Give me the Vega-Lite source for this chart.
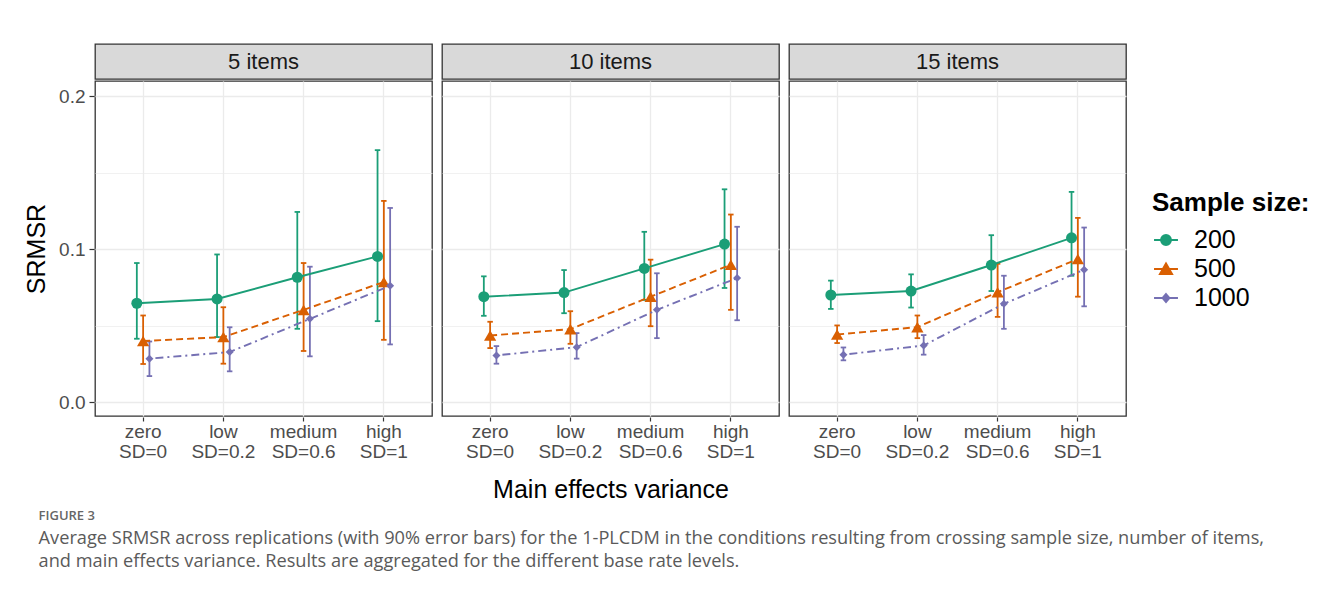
{
  "$schema": "https://vega.github.io/schema/vega-lite/v6.json",
  "padding": {"left": 24, "top": 43, "right": 5, "bottom": 5},
  "background": "white",
  "datasets": {
    "panels": [{"items": "5 items"}, {"items": "10 items"}, {"items": "15 items"}],
    "d": [
      {"items": "5 items", "variance": "zero", "n": "200", "m": 0.0647, "lo": 0.0415, "hi": 0.091},
      {"items": "5 items", "variance": "zero", "n": "500", "m": 0.040, "lo": 0.025, "hi": 0.0567},
      {"items": "5 items", "variance": "zero", "n": "1000", "m": 0.0285, "lo": 0.0171, "hi": 0.0397},
      {"items": "5 items", "variance": "low", "n": "200", "m": 0.0675, "lo": 0.0426, "hi": 0.0966},
      {"items": "5 items", "variance": "low", "n": "500", "m": 0.0426, "lo": 0.0252, "hi": 0.0621},
      {"items": "5 items", "variance": "low", "n": "1000", "m": 0.0328, "lo": 0.0202, "hi": 0.049},
      {"items": "5 items", "variance": "medium", "n": "200", "m": 0.0817, "lo": 0.048, "hi": 0.1244},
      {"items": "5 items", "variance": "medium", "n": "500", "m": 0.0604, "lo": 0.0335, "hi": 0.091},
      {"items": "5 items", "variance": "medium", "n": "1000", "m": 0.0545, "lo": 0.030, "hi": 0.0886},
      {"items": "5 items", "variance": "high", "n": "200", "m": 0.0953, "lo": 0.053, "hi": 0.1648},
      {"items": "5 items", "variance": "high", "n": "500", "m": 0.0786, "lo": 0.0408, "hi": 0.1316},
      {"items": "5 items", "variance": "high", "n": "1000", "m": 0.0762, "lo": 0.0378, "hi": 0.127},
      {"items": "10 items", "variance": "zero", "n": "200", "m": 0.069, "lo": 0.0565, "hi": 0.0823},
      {"items": "10 items", "variance": "zero", "n": "500", "m": 0.0436, "lo": 0.0354, "hi": 0.0526},
      {"items": "10 items", "variance": "zero", "n": "1000", "m": 0.0306, "lo": 0.0252, "hi": 0.0367},
      {"items": "10 items", "variance": "low", "n": "200", "m": 0.0717, "lo": 0.0582, "hi": 0.0864},
      {"items": "10 items", "variance": "low", "n": "500", "m": 0.0478, "lo": 0.0382, "hi": 0.0595},
      {"items": "10 items", "variance": "low", "n": "1000", "m": 0.036, "lo": 0.0285, "hi": 0.0452},
      {"items": "10 items", "variance": "medium", "n": "200", "m": 0.0875, "lo": 0.0669, "hi": 0.1114},
      {"items": "10 items", "variance": "medium", "n": "500", "m": 0.069, "lo": 0.0497, "hi": 0.0932},
      {"items": "10 items", "variance": "medium", "n": "1000", "m": 0.0604, "lo": 0.0419, "hi": 0.0843},
      {"items": "10 items", "variance": "high", "n": "200", "m": 0.1034, "lo": 0.0747, "hi": 0.1392},
      {"items": "10 items", "variance": "high", "n": "500", "m": 0.0899, "lo": 0.0604, "hi": 0.1227},
      {"items": "10 items", "variance": "high", "n": "1000", "m": 0.0812, "lo": 0.0536, "hi": 0.1147},
      {"items": "15 items", "variance": "zero", "n": "200", "m": 0.0701, "lo": 0.061, "hi": 0.0795},
      {"items": "15 items", "variance": "zero", "n": "500", "m": 0.0443, "lo": 0.0387, "hi": 0.0502},
      {"items": "15 items", "variance": "zero", "n": "1000", "m": 0.0311, "lo": 0.0274, "hi": 0.0358},
      {"items": "15 items", "variance": "low", "n": "200", "m": 0.0727, "lo": 0.0619, "hi": 0.0836},
      {"items": "15 items", "variance": "low", "n": "500", "m": 0.0491, "lo": 0.0419, "hi": 0.0567},
      {"items": "15 items", "variance": "low", "n": "1000", "m": 0.0371, "lo": 0.0311, "hi": 0.0439},
      {"items": "15 items", "variance": "medium", "n": "200", "m": 0.0897, "lo": 0.0727, "hi": 0.1092},
      {"items": "15 items", "variance": "medium", "n": "500", "m": 0.0719, "lo": 0.0558, "hi": 0.0905},
      {"items": "15 items", "variance": "medium", "n": "1000", "m": 0.0643, "lo": 0.048, "hi": 0.0827},
      {"items": "15 items", "variance": "high", "n": "200", "m": 0.1075, "lo": 0.0827, "hi": 0.1375},
      {"items": "15 items", "variance": "high", "n": "500", "m": 0.0936, "lo": 0.069, "hi": 0.1205},
      {"items": "15 items", "variance": "high", "n": "1000", "m": 0.0866, "lo": 0.0627, "hi": 0.1142}
    ]
  },
  "title": {
    "text": "FIGURE 3",
    "subtitle": ["Average SRMSR across replications (with 90% error bars) for the 1-PLCDM in the conditions resulting from crossing sample size, number of items,", "and main effects variance. Results are aggregated for the different base rate levels."],
    "orient": "bottom",
    "anchor": "start",
    "frame": "bounds",
    "offset": 7,
    "dx": 14,
    "font": "Open Sans",
    "fontSize": 13,
    "fontWeight": 600,
    "color": "#666666",
    "subtitleFont": "Open Sans",
    "subtitleFontSize": 18.2,
    "subtitleColor": "#5a5a5a",
    "subtitleLineHeight": 23,
    "subtitlePadding": 7
  },
  "spacing": 0,
  "vconcat": [
    {
      "data": {"name": "panels"},
      "facet": {"column": {"field": "items", "type": "nominal", "sort": ["5 items", "10 items", "15 items"], "header": null}},
      "spacing": 8,
      "spec": {
        "width": 337,
        "height": 35,
        "view": {"fill": "#D9D9D9", "stroke": "#333333", "strokeWidth": 1.3},
        "mark": {"type": "text", "font": "Liberation Sans", "fontSize": 22, "color": "#1A1A1A", "baseline": "middle", "align": "center"},
        "encoding": {"text": {"field": "items", "type": "nominal"}}
      }
    },
    {
      "data": {"name": "d"},
      "facet": {
        "column": {
          "field": "items", "type": "nominal", "sort": ["5 items", "10 items", "15 items"],
          "title": "Main effects variance",
          "header": {"labels": false, "title": "Main effects variance", "titleOrient": "bottom", "titleFont": "Liberation Sans", "titleFontSize": 25, "titleFontWeight": "normal", "titleColor": "#000000", "titlePadding": 7}
        }
      },
      "spacing": 8,
      "spec": {
        "width": 337,
        "height": 335,
        "view": {"stroke": "#333333", "strokeWidth": 1.3},
        "encoding": {
          "x": {
            "field": "variance", "type": "nominal",
            "sort": ["zero", "low", "medium", "high"],
            "scale": {"type": "band", "paddingInner": 0, "paddingOuter": 0.1},
            "axis": {
              "title": null,
              "labelAngle": 0,
              "labelFont": "Liberation Sans", "labelFontSize": 19, "labelColor": "#4D4D4D", "labelPadding": 1, "labelLineHeight": 20,
              "labelExpr": "[datum.label, datum.label == 'zero' ? 'SD=0' : datum.label == 'low' ? 'SD=0.2' : datum.label == 'medium' ? 'SD=0.6' : 'SD=1']",
              "bandPosition": 0.5,
              "domain": false,
              "ticks": true, "tickSize": 4, "tickColor": "#333333", "tickWidth": 1.2,
              "grid": true, "gridColor": "#EBEBEB", "gridWidth": 1.3
            }
          },
          "xOffset": {
            "field": "n", "type": "nominal",
            "sort": ["200", "500", "1000"],
            "scale": {"type": "point", "padding": 0, "range": [33.8, 46.4]}
          },
          "color": {
            "field": "n", "type": "nominal",
            "sort": ["200", "500", "1000"],
            "scale": {"domain": ["200", "500", "1000"], "range": ["#1B9E77", "#D95F02", "#7570B3"]},
            "legend": {
              "title": "Sample size:",
              "orient": "none",
              "legendX": 1057,
              "legendY": 146,
              "titleFont": "Liberation Sans", "titleFontSize": 26, "titleFontWeight": "bold", "titleColor": "#000000", "titlePadding": 10,
              "labelFont": "Liberation Sans", "labelFontSize": 25, "labelColor": "#000000", "labelOffset": 14,
              "symbolSize": 676, "rowPadding": 2, "symbolStrokeWidth": 2,
              "encode": {
                "symbols": {
                  "update": {
                    "shape": {"signal": "datum.value == '200' ? 'M-0.92,0H0.92M0.38,0A0.38,0.38,0,1,1,-0.38,0A0.38,0.38,0,1,1,0.38,0Z' : datum.value == '500' ? 'M-0.92,0H0.92M0,-0.42L0.46,0.38L-0.46,0.38Z' : 'M-0.92,0H0.92M0,-0.3L0.26,0L0,0.3L-0.26,0Z'"},
                    "fill": {"signal": "scale('color', datum.value)"},
                    "stroke": {"signal": "scale('color', datum.value)"},
                    "strokeWidth": {"value": 2},
                    "opacity": {"value": 1},
                    "fillOpacity": {"value": 1},
                    "strokeOpacity": {"value": 1}
                  }
                }
              }
            }
          }
        },
        "layer": [
          {
            "mark": {"type": "rule", "strokeWidth": 1.8},
            "encoding": {
              "y": {
                "field": "lo", "type": "quantitative",
                "scale": {"domain": [-0.009, 0.21], "nice": false, "zero": false},
                "axis": {
                  "title": "SRMSR",
                  "titleFont": "Liberation Sans", "titleFontSize": 25, "titleFontWeight": "normal", "titleColor": "#000000", "titlePadding": 9,
                  "values": [0, 0.05, 0.1, 0.15, 0.2],
                  "labelExpr": "indexof([0.05, 0.15], datum.value) >= 0 ? '' : format(datum.value, '.1f')",
                  "labelFont": "Liberation Sans", "labelFontSize": 19, "labelColor": "#4D4D4D", "labelPadding": 4,
                  "domain": false,
                  "tickSize": 5, "tickColor": "#333333", "tickWidth": 1.2,
                  "tickOpacity": {"condition": {"test": "indexof([0.05, 0.15], datum.value) >= 0", "value": 0}, "value": 1},
                  "grid": true, "gridColor": "#EBEBEB",
                  "gridWidth": {"condition": {"test": "indexof([0.05, 0.15], datum.value) >= 0", "value": 0.7}, "value": 1.3}
                }
              },
              "y2": {"field": "hi"}
            }
          },
          {
            "mark": {"type": "point", "shape": "M-1,0H1", "filled": false, "size": 30, "strokeWidth": 1.8, "opacity": 1},
            "encoding": {"y": {"field": "lo", "type": "quantitative"}}
          },
          {
            "mark": {"type": "point", "shape": "M-1,0H1", "filled": false, "size": 30, "strokeWidth": 1.8, "opacity": 1},
            "encoding": {"y": {"field": "hi", "type": "quantitative"}}
          },
          {
            "transform": [{"filter": "datum.n == '200'"}],
            "mark": {"type": "line", "strokeWidth": 1.9},
            "encoding": {"y": {"field": "m", "type": "quantitative"}}
          },
          {
            "transform": [{"filter": "datum.n == '500'"}],
            "mark": {"type": "line", "strokeWidth": 1.9, "strokeDash": [7, 4]},
            "encoding": {"y": {"field": "m", "type": "quantitative"}}
          },
          {
            "transform": [{"filter": "datum.n == '1000'"}],
            "mark": {"type": "line", "strokeWidth": 1.9, "strokeDash": [2, 4, 8, 4]},
            "encoding": {"y": {"field": "m", "type": "quantitative"}}
          },
          {
            "transform": [{"filter": "datum.n == '200'"}],
            "mark": {"type": "point", "filled": true, "opacity": 1, "shape": "circle", "size": 121},
            "encoding": {"y": {"field": "m", "type": "quantitative"}}
          },
          {
            "transform": [{"filter": "datum.n == '500'"}],
            "mark": {"type": "point", "filled": true, "opacity": 1, "shape": "triangle-up", "size": 150},
            "encoding": {"y": {"field": "m", "type": "quantitative"}}
          },
          {
            "transform": [{"filter": "datum.n == '1000'"}],
            "mark": {"type": "point", "filled": true, "opacity": 1, "shape": "diamond", "size": 64},
            "encoding": {"y": {"field": "m", "type": "quantitative"}}
          }
        ]
      }
    }
  ]
}
